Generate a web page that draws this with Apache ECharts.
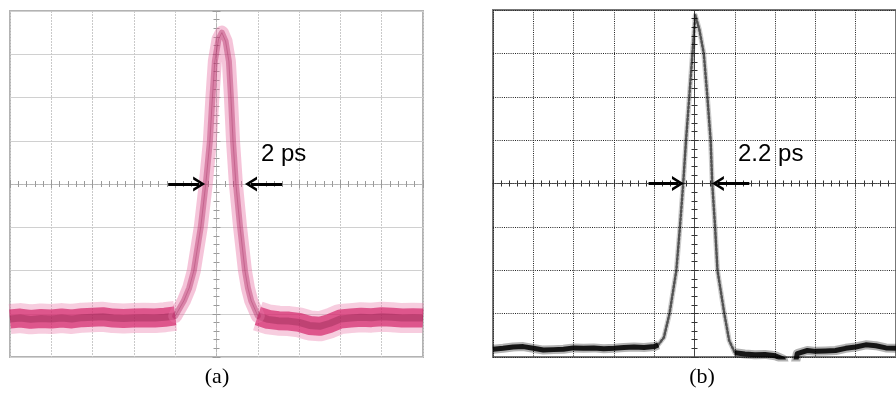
<!DOCTYPE html>
<html>
<head>
<meta charset="utf-8">
<script src="https://cdn.jsdelivr.net/npm/echarts@6/dist/echarts.min.js"></script>
<style>
  html, body { margin: 0; padding: 0; background: #fff; }
  #chart { width: 896px; height: 394px; }
</style>
</head>
<body>
<div id="chart"></div>
<script>
// screen divisions: x -5..5, y -4..4 (centre = 0)
var aLeftT = [-5, -4.75, -4.5, -4.25, -4, -3.75, -3.5, -3.25, -3, -2.75, -2.5, -2.25, -2, -1.75, -1.5, -1.25, -1.0];
var aLeftV = [-3.12, -3.1, -3.13, -3.11, -3.12, -3.1, -3.12, -3.09, -3.08, -3.07, -3.1, -3.11, -3.1, -3.09, -3.1, -3.08, -3.05];
var aPulseT = [-1.0, -0.79, -0.66, -0.55, -0.38, -0.26, -0.16, -0.10, -0.04, 0.05, 0.13, 0.22, 0.30, 0.35, 0.40, 0.47, 0.57, 0.69, 0.76, 0.84, 1.0];
var aPulseV = [-3.05, -2.70, -2.40, -2.01, -0.99, 0.0, 0.99, 1.99, 2.84, 3.35, 3.5, 3.3, 2.84, 1.99, 0.99, 0.0, -0.99, -2.01, -2.40, -2.70, -3.05];
var aRightT = [1.0, 1.25, 1.5, 1.75, 2.0, 2.25, 2.5, 2.75, 3.0, 3.25, 3.5, 3.75, 4.0, 4.25, 4.5, 4.75, 5.0];
var aRightV = [-3.05, -3.13, -3.16, -3.17, -3.2, -3.27, -3.29, -3.22, -3.12, -3.1, -3.08, -3.09, -3.07, -3.08, -3.1, -3.09, -3.1];

var bLeftT = [-5, -4.75, -4.5, -4.25, -4, -3.75, -3.5, -3.25, -3, -2.75, -2.5, -2.25, -2, -1.75, -1.5, -1.25, -1.0, -0.9];
var bLeftV = [-3.82, -3.8, -3.77, -3.76, -3.8, -3.84, -3.83, -3.82, -3.79, -3.8, -3.79, -3.81, -3.8, -3.78, -3.77, -3.78, -3.76, -3.72];
var bPulseT = [-0.9, -0.76, -0.62, -0.45, -0.36, -0.28, -0.21, -0.13, -0.05, 0.02, 0.12, 0.23, 0.32, 0.40, 0.44, 0.51, 0.57, 0.74, 0.86, 1.0];
var bPulseV = [-3.72, -3.55, -3.0, -2.0, -0.99, 0.0, 1.0, 1.99, 3.0, 3.88, 3.55, 3.0, 1.99, 1.0, 0.0, -0.99, -2.0, -3.0, -3.62, -3.9];
var bRightT = [1.0, 1.25, 1.5, 1.75, 2.0, 2.2, 2.3, 2.45, 2.55, 2.8, 3.0, 3.25, 3.5, 3.75, 4.0, 4.25, 4.5, 4.75, 5.0];
var bRightV = [-3.9, -3.93, -3.95, -3.94, -3.97, -4.05, -4.4, -4.4, -3.92, -3.85, -3.87, -3.86, -3.85, -3.8, -3.77, -3.72, -3.74, -3.79, -3.8];

// FWHM arrows (from, to) on the centre line
var aArrowFrom = [-1.17, 1.59];
var aArrowTo = [-0.42, 0.835];
var bArrowFrom = [-1.14, 1.36];
var bArrowTo = [-0.41, 0.58];

var widthLabels = ['2 ps', '2.2 ps'];
var panelLabels = ['(a)', '(b)'];

var chevron = 'path://M0,12 L7,0 L14,12 L11.2,12 L7,4.8 L2.8,12 Z';

var xAxes = [];
var yAxes = [];

function addPanelAxes(p, st) {
  var base = p * 3;
  var hidden = { show: false };
  xAxes.push({
    gridIndex: p, type: 'value', min: -5, max: 5, interval: 1,
    axisLine: { show: false, onZero: false }, axisTick: hidden, axisLabel: hidden,
    splitLine: { show: true, lineStyle: st.vGrid }
  });
  yAxes.push({
    gridIndex: p, type: 'value', min: -4, max: 4, interval: 1,
    axisLine: { show: false, onZero: false }, axisTick: hidden, axisLabel: hidden,
    splitLine: { show: true, lineStyle: st.hGrid }
  });
  ['bottom', 'top'].forEach(function (pos) {
    xAxes.push({
      gridIndex: p, type: 'value', min: -5, max: 5, interval: 1, position: pos,
      axisLine: { show: true, onZero: true, onZeroAxisIndex: base, lineStyle: st.center },
      axisTick: { show: true, length: st.tickLen, lineStyle: st.tick },
      minorTick: { show: true, splitNumber: 5, length: 3, lineStyle: st.tick },
      axisLabel: hidden, splitLine: hidden
    });
  });
  ['left', 'right'].forEach(function (pos) {
    yAxes.push({
      gridIndex: p, type: 'value', min: -4, max: 4, interval: 1, position: pos,
      axisLine: { show: true, onZero: true, onZeroAxisIndex: base, lineStyle: st.center },
      axisTick: { show: true, length: st.tickLen, lineStyle: st.tick },
      minorTick: { show: true, splitNumber: 5, length: 3, lineStyle: st.tick },
      axisLabel: hidden, splitLine: hidden
    });
  });
}

addPanelAxes(0, {
  vGrid: { color: '#c9c9c9', width: 1, type: [2, 1] },
  hGrid: { color: '#d0d0d0', width: 1.2 },
  center: { color: '#b5b5b5', width: 1, type: [3, 2] },
  tick: { color: '#9a9a9a', width: 1 },
  tickLen: 4
});
addPanelAxes(1, {
  vGrid: { color: '#222', width: 1, type: [1, 1.2] },
  hGrid: { color: '#222', width: 1, type: [1, 1.2] },
  center: { color: '#444', width: 1, type: [1, 1.2] },
  tick: { color: '#333', width: 1 },
  tickLen: 4
});

function pairs(t, v) {
  return t.map(function (x, i) { return [x, v[i]]; });
}

function trace(p, t, v, width, color, type, cap) {
  return {
    type: 'line', xAxisIndex: p * 3, yAxisIndex: p * 3,
    data: pairs(t, v), symbol: 'none', showSymbol: false, silent: true, clip: true,
    lineStyle: { width: width, color: color, type: type || 'solid', cap: cap || 'round', join: 'round' },
    z: 2
  };
}

function arrows(from, to) {
  return {
    silent: true,
    symbol: ['none', chevron],
    symbolSize: [15, 12],
    label: { show: false },
    lineStyle: { color: '#000', width: 3, type: 'solid' },
    data: from.map(function (f, i) {
      return [{ coord: [f, 0] }, { coord: [to[i], 0] }];
    })
  };
}

var series = [];
// panel (a): noisy magenta trace
[[aLeftT, aLeftV], [aRightT, aRightV]].forEach(function (s) {
  series.push(trace(0, s[0], s[1], 30, 'rgba(236,130,175,0.4)', 'solid', 'butt'));
  series.push(trace(0, s[0], s[1], 19, 'rgba(210,30,100,0.68)', 'solid', 'butt'));
  series.push(trace(0, s[0], s[1], 7, 'rgba(120,20,60,0.3)', 'solid', 'butt'));
});
series.push(trace(0, aPulseT, aPulseV, 14, 'rgba(232,115,165,0.42)'));
series.push(trace(0, aPulseT, aPulseV, 6, 'rgba(175,35,95,0.4)'));
var aArr = trace(0, aPulseT, aPulseV, 1, 'rgba(150,30,80,0.3)');
aArr.markLine = arrows(aArrowFrom, aArrowTo);
series.push(aArr);

// panel (b): black trace
[[bLeftT, bLeftV], [bRightT, bRightV]].forEach(function (s) {
  series.push(trace(1, s[0], s[1], 9, 'rgba(0,0,0,0.3)', 'solid', 'butt'));
  series.push(trace(1, s[0], s[1], 5, 'rgba(0,0,0,0.88)', 'solid', 'butt'));
});
series.push(trace(1, bPulseT, bPulseV, 5, 'rgba(0,0,0,0.2)'));
var bArr = trace(1, bPulseT, bPulseV, 2.5, 'rgba(0,0,0,0.6)', [2, 2]);
bArr.markLine = arrows(bArrowFrom, bArrowTo);
series.push(bArr);

var option = {
  animation: false,
  backgroundColor: '#fff',
  grid: [
    { left: 10, top: 11, width: 413, height: 346, show: true, borderColor: '#b3b3b3', borderWidth: 2 },
    { left: 493, top: 10, width: 412, height: 347, show: true, borderColor: '#777', borderWidth: 2 }
  ],
  xAxis: xAxes,
  yAxis: yAxes,
  series: series,
  graphic: [
    { type: 'text', left: 261, top: 142, z: 10,
      style: { text: widthLabels[0], font: '24px "Liberation Sans", Arial, sans-serif', fill: '#000' } },
    { type: 'text', left: 738, top: 142, z: 10,
      style: { text: widthLabels[1], font: '24px "Liberation Sans", Arial, sans-serif', fill: '#000' } },
    { type: 'text', x: 217, y: 377, z: 10,
      style: { text: panelLabels[0], font: '22px "Liberation Serif", "Times New Roman", serif', fill: '#000', align: 'center', verticalAlign: 'middle' } },
    { type: 'text', x: 702, y: 377, z: 10,
      style: { text: panelLabels[1], font: '22px "Liberation Serif", "Times New Roman", serif', fill: '#000', align: 'center', verticalAlign: 'middle' } }
  ]
};

var chart = echarts.init(document.getElementById('chart'));
chart.setOption(option);
</script>
</body>
</html>
